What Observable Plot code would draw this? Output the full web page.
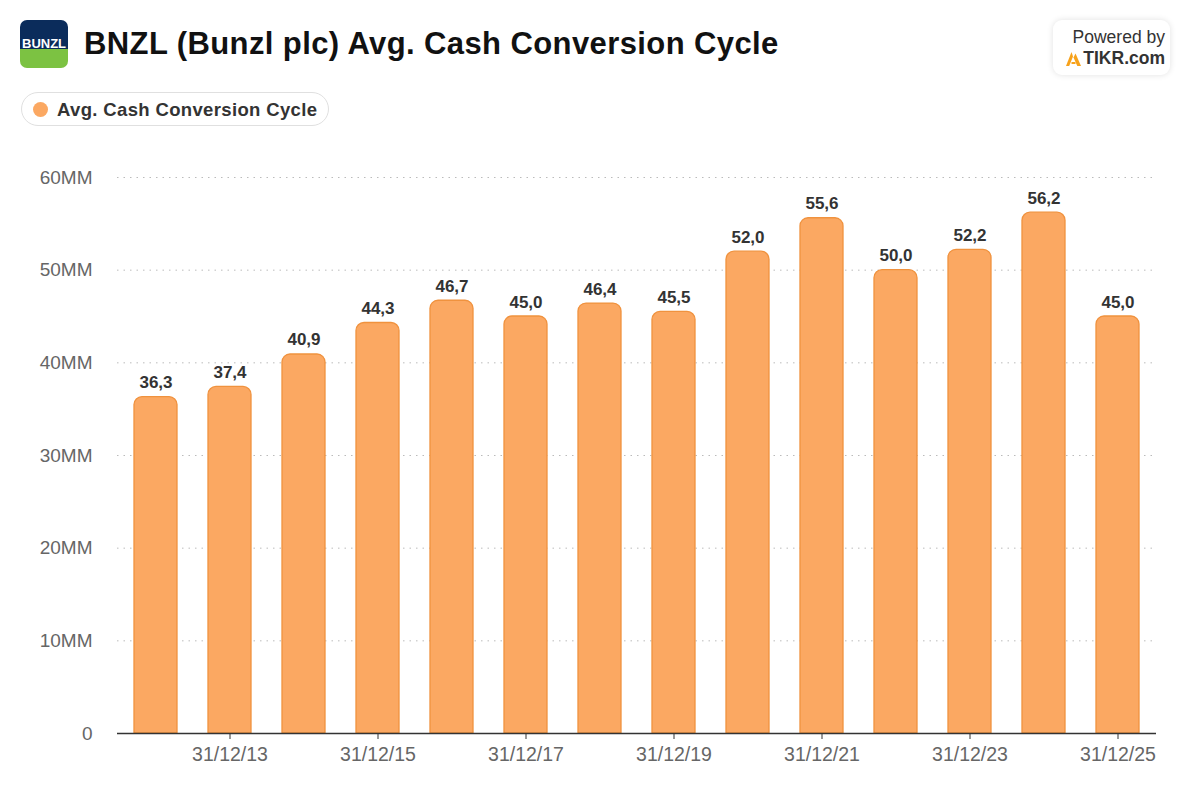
<!DOCTYPE html>
<html>
<head>
<meta charset="utf-8">
<script src="https://cdn.jsdelivr.net/npm/d3@7"></script>
<script src="https://cdn.jsdelivr.net/npm/@observablehq/plot@0.6"></script>
<style>
  html, body { margin: 0; padding: 0; background: #fff; font-family: "Liberation Sans", Arial, sans-serif; }
  #page { position: relative; width: 1192px; height: 796px; overflow: hidden; }
  #logo { position: absolute; left: 20px; top: 20px; width: 48px; height: 48px; border-radius: 7px; overflow: hidden; }
  #title { position: absolute; left: 84px; top: 26px; font-size: 31px; font-weight: bold; color: #111; letter-spacing: 0.4px; white-space: nowrap; }
  #legend { position: absolute; left: 21px; top: 92px; height: 34px; width: 308px; border: 1px solid #e0e0e0; border-radius: 17px; box-sizing: border-box; }
  #legend .dot { position: absolute; left: 11px; top: 9px; width: 15px; height: 15px; border-radius: 50%; background: #FBA862; }
  #legend .lab { position: absolute; left: 35px; top: 6px; font-size: 18.5px; font-weight: bold; color: #333; white-space: nowrap; letter-spacing: 0.35px; }
  #tikr { position: absolute; left: 1053px; top: 20px; width: 117px; height: 55px; border-radius: 9px; background: #fff; box-shadow: 0 0 6px rgba(0,0,0,0.12); }
  #tikr .p { position: absolute; right: 5px; top: 7px; font-size: 17.5px; color: #333; white-space: nowrap; }
  #tikr .t { position: absolute; right: 5px; top: 28px; font-size: 17.5px; font-weight: bold; color: #333; white-space: nowrap; }
  #tikr svg { position: absolute; left: 13px; top: 32px; }
  #chart { position: absolute; left: 0; top: 140px; }
</style>
</head>
<body>
<div id="page">
  <div id="logo">
    <svg width="48" height="48" viewBox="0 0 48 48">
      <rect x="0" y="0" width="48" height="29" fill="#0b2c5b"/>
      <rect x="0" y="29" width="48" height="19" fill="#7cc242"/>
      <text x="24" y="27.5" text-anchor="middle" font-family="Liberation Sans, Arial" font-weight="bold" font-size="13" textLength="44" lengthAdjust="spacingAndGlyphs" fill="#fff">BUNZL</text>
    </svg>
  </div>
  <div id="title">BNZL (Bunzl plc) Avg. Cash Conversion Cycle</div>
  <div id="legend"><div class="dot"></div><div class="lab">Avg. Cash Conversion Cycle</div></div>
  <div id="tikr">
    <div class="p">Powered by</div>
    <svg width="15" height="14" viewBox="0 0 15 14"><path d="M5.5 0 L0 14 L3.2 14 L7 4.5 Z" fill="#f7a21b"/><path d="M7.5 5.5 L11.3 14 L15 14 L9.5 1.5 Z" fill="#f7a21b"/><path d="M5.5 10 L9.5 10 L9.5 12 L5.5 12 Z" fill="#f7a21b"/></svg>
    <div class="t">TIKR.com</div>
  </div>
  <div id="chart"></div>
</div>
<script>
const dates = ["31/12/12","31/12/13","31/12/14","31/12/15","31/12/16","31/12/17","31/12/18","31/12/19","31/12/20","31/12/21","31/12/22","31/12/23","31/12/24","31/12/25"];
const values = [36.3, 37.4, 40.9, 44.3, 46.7, 45.0, 46.4, 45.5, 52.0, 55.6, 50.0, 52.2, 56.2, 45.0];
const yTicks = [0, 10, 20, 30, 40, 50, 60];
const xTickLabels = ["31/12/13","31/12/15","31/12/17","31/12/19","31/12/21","31/12/23","31/12/25"];

const data = dates.map((d, i) => ({date: d, value: values[i]}));
const fmt = v => v.toFixed(1).replace(".", ",");

const chart = Plot.plot({
  width: 1192,
  height: 656,
  marginLeft: 117,
  marginRight: 36,
  marginTop: 37,
  marginBottom: 63,
  style: {fontFamily: "Liberation Sans, Arial, sans-serif", background: "transparent"},
  x: {domain: dates, paddingInner: 0.42, paddingOuter: 0.21, label: null},
  y: {domain: [0, 60], label: null},
  marks: [
    Plot.gridY(yTicks, {stroke: "#bbb", strokeOpacity: 1, strokeDasharray: "1.5,5"}),
    Plot.barY(data, {x: "date", y: "value", fill: "#FBA862", stroke: "#F0923E", strokeWidth: 1.3, ry1: 8}),
    Plot.text(data, {x: "date", y: "value", text: d => fmt(d.value), dy: -9, lineAnchor: "bottom", fontWeight: "bold", fontSize: 17, fill: "#333"}),
    Plot.ruleY([0], {stroke: "#333", strokeWidth: 1.3}),
    Plot.axisY(yTicks, {tickSize: 0, tickPadding: 25, fontSize: 19, fill: "#666", tickFormat: d => d === 0 ? "0" : d + "MM", label: null}),
    Plot.axisX(xTickLabels, {tickSize: 6, tickPadding: 8, fontSize: 19.5, fill: "#666", stroke: "#333", label: null})
  ]
});
document.getElementById("chart").appendChild(chart);
</script>
</body>
</html>
